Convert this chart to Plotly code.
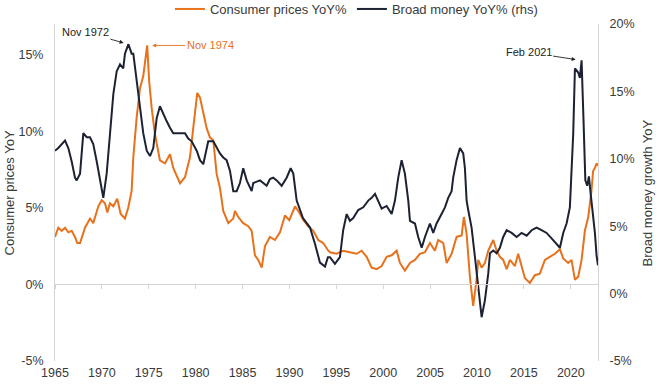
import plotly.graph_objects as go

# ---- data ----
money_years = [1965.0,1965.35,1966.07,1966.42,1966.78,1967.13,1967.31,1967.67,1968.02,1968.38,1968.73,1969.08,1969.45,1969.8,
               1970.15,1970.51,1970.86,1971.22,1971.58,1971.93,1972.28,1972.46,1972.83,1973.17,1973.35,1973.71,1974.06,1974.41,
               1974.78,1975.13,1975.48,1975.84,1976.19,1976.55,1976.9,1977.26,1977.61,1978.33,1978.86,1979.21,1979.57,1980.11,
               1980.46,1980.81,1981.34,1981.88,1982.24,1982.59,1982.94,1983.3,1983.66,1984.01,1984.37,1984.72,1985.07,1985.44,
               1985.97,1986.14,1986.86,1987.57,1987.92,1988.27,1988.64,1989.17,1989.7,1990.13,1990.41,1990.77,1991.44,1992.19,
               1992.72,1993.25,1993.79,1994.1,1994.32,1994.85,1995.38,1995.73,1996.1,1996.45,1996.8,1997.33,1997.87,1998.4,
               1998.76,1999.12,1999.83,2000.36,2000.9,2001.25,2001.6,2001.96,2002.31,2002.67,2002.85,2003.38,2003.73,2004.1,
               2004.45,2004.98,2005.33,2005.69,2006.22,2006.58,2006.93,2007.29,2007.46,2007.82,2008.18,2008.53,2008.71,2008.89,
               2009.06,2009.42,2009.78,2010.13,2010.49,2010.84,2011.2,2011.38,2011.73,2012.09,2012.44,2012.79,2013.16,2013.69,
               2014.22,2014.75,2015.29,2015.82,2016.35,2016.88,2017.42,2017.95,2018.48,2018.84,2019.19,2019.55,2019.9,2020.08,
               2020.26,2020.44,2020.79,2020.97,2021.15,2021.35,2021.55,2021.75,2021.93,2022.15,2022.4,2022.57,2022.75,2022.9]
money_values = [10.6,10.8,11.35,10.8,9.8,8.6,8.4,8.9,11.9,11.6,11.6,11.1,9.8,8.4,
                7.1,8.9,11.9,14.8,16.5,17.0,16.7,17.8,18.5,17.8,17.8,15.7,13.8,11.9,
                10.6,10.2,10.8,13.0,13.9,13.3,12.8,12.3,11.9,11.9,11.9,11.5,11.3,10.6,
                9.9,9.6,11.3,11.3,10.8,10.4,10.1,9.9,9.1,7.6,7.6,8.2,9.3,8.4,
                7.6,8.2,8.4,8.0,8.5,8.6,8.4,8.0,8.6,9.3,8.9,6.9,5.6,4.9,
                3.7,2.3,2.0,2.7,2.7,2.2,2.7,4.7,5.9,5.4,5.6,6.2,6.4,6.9,
                7.1,7.4,6.3,6.5,5.9,6.9,8.6,9.9,8.9,6.9,5.4,5.2,4.2,3.4,
                4.2,5.2,4.5,5.2,5.9,6.4,7.1,7.6,8.6,9.9,10.8,10.4,9.3,6.9,
                6.2,4.9,2.7,0.25,-1.75,-0.5,1.5,3.0,3.2,3.0,3.4,4.2,4.7,4.5,
                4.2,4.5,4.3,4.7,4.9,4.7,4.5,4.1,3.7,3.4,4.5,5.2,6.4,8.9,
                11.9,16.7,16.4,16.0,17.3,13.0,8.4,8.0,8.7,7.2,5.8,4.5,2.8,2.1]

cpi_years = [1965.0,1965.35,1965.71,1966.07,1966.42,1966.78,1967.13,1967.38,1967.67,1968.2,1968.73,1969.08,1969.62,1969.98,
             1970.33,1970.58,1970.86,1971.22,1971.64,1972.0,1972.46,1972.81,1973.17,1973.35,1973.71,1974.06,1974.41,1974.6,
             1974.83,1975.05,1975.31,1975.66,1976.19,1976.73,1977.26,1977.61,1978.33,1978.86,1979.39,1979.74,1980.17,1980.46,
             1980.81,1981.17,1981.52,1981.88,1982.24,1982.59,1982.94,1983.48,1984.01,1984.19,1984.54,1985.07,1985.61,1985.97,
             1986.32,1986.67,1987.04,1987.39,1987.92,1988.45,1988.99,1989.52,1989.98,1990.59,1991.04,1991.47,1992.0,1992.54,
             1993.07,1993.6,1994.14,1994.32,1995.03,1995.74,1996.45,1997.16,1997.7,1998.23,1998.76,1999.3,1999.83,2000.36,
             2000.9,2001.43,2001.78,2002.31,2002.85,2003.38,2003.91,2004.45,2004.98,2005.51,2005.86,2006.4,2006.76,2007.29,
             2007.82,2008.36,2008.6,2008.89,2009.24,2009.59,2009.95,2010.13,2010.49,2010.84,2011.2,2011.73,2012.09,2012.44,
             2012.79,2013.16,2013.51,2014.04,2014.39,2014.75,2015.11,2015.64,2016.17,2016.7,2017.24,2017.77,2018.3,2018.84,
             2019.19,2019.72,2020.08,2020.44,2020.79,2021.15,2021.5,2021.86,2022.2,2022.38,2022.57,2022.75,2022.9]
cpi_values = [3.1,3.7,3.5,3.7,3.4,3.5,3.1,2.7,2.7,3.7,4.3,4.0,5.1,5.5,
              5.3,4.7,5.3,5.1,5.6,4.6,4.3,5.0,6.1,8.3,10.9,12.8,13.6,14.6,
              15.6,13.2,11.5,9.8,8.1,7.9,8.5,7.6,6.6,7.0,8.3,10.2,12.5,12.2,
              11.3,10.2,9.6,9.4,7.2,6.3,4.8,4.0,4.3,4.8,4.4,4.0,3.8,3.5,
              1.9,1.6,1.1,2.5,3.1,2.9,3.4,4.5,4.2,5.1,4.7,4.2,3.8,3.5,
              2.9,2.7,2.2,2.1,2.0,2.2,2.1,2.0,2.2,1.8,1.1,1.0,1.2,1.8,
              1.9,2.2,1.4,0.9,1.4,1.6,2.0,2.1,2.7,2.2,2.9,2.7,1.4,2.0,
              3.1,3.2,4.4,3.3,0.5,-1.4,0.3,1.6,1.1,1.4,2.2,2.9,2.2,1.8,
              1.6,1.0,1.6,1.2,2.0,1.2,0.4,0.1,0.6,0.7,1.6,1.8,2.0,2.3,
              1.7,1.4,1.6,0.3,0.5,1.6,3.5,4.4,6.1,7.4,7.6,7.9,7.75]

year_ticks = [1965, 1970, 1975, 1980, 1985, 1990, 1995, 2000, 2005, 2010, 2015, 2020]
left_ticks = [-5, 0, 5, 10, 15]
right_ticks = [-5, 0, 5, 10, 15, 20]

ORANGE = "#E8711C"
NAVY = "#1C2233"
TXT = "#3a3a3a"
AXLINE = "#d4d4d4"
FONT = "Liberation Sans, Arial, sans-serif"

fig = go.Figure()
fig.add_trace(go.Scatter(x=cpi_years, y=cpi_values, mode="lines", name="Consumer prices YoY%",
                         line=dict(color=ORANGE, width=2), xaxis="x", yaxis="y"))
fig.add_trace(go.Scatter(x=money_years, y=money_values, mode="lines", name="Broad money YoY% (rhs)",
                         line=dict(color=NAVY, width=2), xaxis="x", yaxis="y2"))
# invisible helper trace so the zero-line tick axis is rendered
fig.add_trace(go.Scatter(x=[year_ticks[0]], y=[None], mode="lines", showlegend=False,
                         hoverinfo="skip", xaxis="x2", yaxis="y"))

xr = [1965, 2022.9]
fig.update_layout(
    width=660, height=388,
    margin=dict(l=55, r=62, t=23, b=27),
    paper_bgcolor="white", plot_bgcolor="white",
    font=dict(family=FONT, size=12.5, color=TXT),
    showlegend=True,
    legend=dict(orientation="h", xref="container", yref="container",
                x=0.54, xanchor="center", y=1 - 9 / 388, yanchor="middle",
                font=dict(size=13, color=TXT), bgcolor="rgba(0,0,0,0)", traceorder="normal",
                borderwidth=0),
    xaxis=dict(range=xr, tickvals=year_ticks, ticktext=[str(v) for v in year_ticks],
               showgrid=False, zeroline=False, showline=False, ticks="", automargin=False,
               tickfont=dict(size=12.5, color=TXT), ticklabelstandoff=2),
    xaxis2=dict(range=xr, overlaying="x", anchor="free", position=(5 / 22), side="bottom",
                tickvals=year_ticks, showticklabels=False, showgrid=False, zeroline=False,
                showline=True, linecolor=AXLINE, linewidth=1, ticks="outside", ticklen=4,
                tickcolor=AXLINE, tickwidth=1, automargin=False),
    yaxis=dict(range=[-5, 17], tickvals=left_ticks, ticktext=[f"{v}%" for v in left_ticks],
               showgrid=False, zeroline=False, showline=True, linecolor=AXLINE, linewidth=1,
               ticks="", ticklabelstandoff=8, automargin=False, tickfont=dict(size=12.5, color=TXT)),
    yaxis2=dict(range=[-5, 20], tickvals=right_ticks, ticktext=[f"{v}%" for v in right_ticks],
                overlaying="y", side="right", showgrid=False, zeroline=False, showline=True,
                linecolor=AXLINE, linewidth=1, ticks="", ticklabelstandoff=8, automargin=False,
                tickfont=dict(size=12.5, color=TXT)),
)

annotations = [
    dict(text="Consumer prices YoY", xref="paper", yref="paper", x=-0.083, y=0.5,
         xanchor="center", yanchor="middle",
         textangle=-90, showarrow=False, font=dict(size=13, color=TXT)),
    dict(text="Broad money growth YoY", xref="paper", yref="paper", x=1.092, y=0.5,
         xanchor="center", yanchor="middle",
         textangle=-90, showarrow=False, font=dict(size=13, color=TXT)),
    dict(text="Nov 1972", x=1972.83, y=18.5, xref="x", yref="y2", ax=-43, ay=-12,
         showarrow=True, arrowhead=2, arrowsize=0.9, arrowwidth=0.9, arrowcolor="#222222",
         standoff=5, font=dict(size=11, color="#222222")),
    dict(text="Nov 1974", x=1974.83, y=15.6, xref="x", yref="y", ax=63, ay=0,
         showarrow=True, arrowhead=2, arrowsize=0.9, arrowwidth=0.9, arrowcolor=ORANGE,
         standoff=5, font=dict(size=11, color=ORANGE)),
    dict(text="Feb 2021", x=2021.15, y=17.3, xref="x", yref="y2", ax=-53, ay=-8,
         showarrow=True, arrowhead=2, arrowsize=0.9, arrowwidth=0.9, arrowcolor="#222222",
         standoff=6, font=dict(size=11, color="#222222")),
]
fig.update_layout(annotations=annotations)

fig.write_html("out.html", config={"displayModeBar": False},
               post_script="document.body.style.margin='0';document.body.style.overflow='hidden';")
